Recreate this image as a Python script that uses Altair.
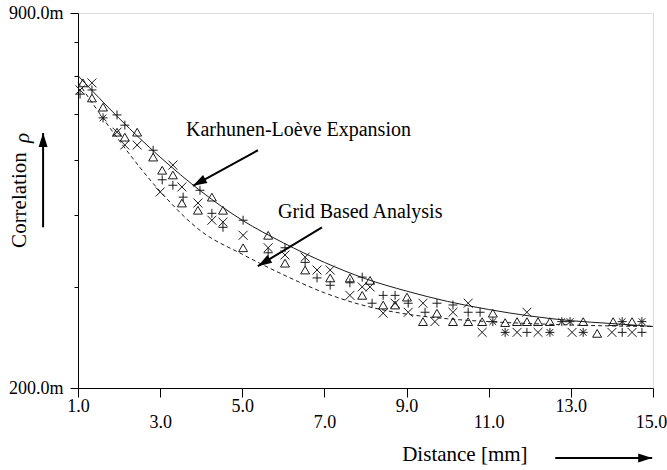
import altair as alt
import pandas as pd

FONT = "Liberation Serif"
INK = "#1a1a1a"

# ---- fitted curves ----
curve_x = [1, 2, 3, 4, 5, 6, 7, 8, 9, 10, 11, 12, 13, 14, 15]
kl_rho = [700, 590, 505, 440, 392, 358, 331, 310, 295, 283, 274, 267, 262, 259, 256]
grid_rho = [682, 540, 440, 375, 342, 315, 293, 278, 269, 264, 261, 259, 257.5, 256.5, 256]

# ---- measured points ----
tri_x = [1.12, 1.34, 1.61, 1.95, 2.14, 2.44, 2.83, 3.05, 3.31, 3.53, 3.92, 4.26, 4.53,
         5.02, 5.63, 6.04, 6.53, 7.14, 7.62, 7.92, 8.11, 8.43, 8.72, 9.01, 9.40, 9.74,
         10.13, 10.50, 10.84, 11.10, 11.40, 11.69, 11.93, 12.20, 12.49, 13.30, 13.64,
         14.03, 14.49]
tri_rho = [680, 640, 617, 558, 547, 558, 505, 479, 470, 420, 408, 430, 408,
           351, 369, 330, 321, 311, 311, 290, 308, 279, 279, 288, 261, 270,
           261, 261, 261, 270, 260, 261, 261, 261, 261, 261, 249,
           261, 261]

cross_x = [1.05, 1.34, 1.95, 2.14, 2.44, 3.00, 3.31, 3.53, 3.92, 4.26, 4.53, 5.02, 5.63,
           6.04, 6.53, 6.82, 7.14, 7.62, 7.92, 8.11, 8.43, 8.72, 9.04, 9.40, 9.69, 10.13,
           10.50, 10.84, 11.69, 11.93, 12.20, 13.03, 14.00, 14.49]
cross_rho = [661, 680, 558, 530, 530, 439, 489, 448, 420, 392, 389, 369, 351,
             341, 338, 321, 321, 290, 300, 300, 270, 281, 271, 281, 261, 271,
             281, 250, 250, 271, 250, 250, 250, 250]

plus_x = [1.05, 1.34, 1.95, 2.14, 2.83, 3.05, 3.31, 3.56, 3.97, 4.26, 4.53, 5.02, 5.63,
          6.04, 6.53, 6.82, 7.14, 7.62, 7.92, 8.16, 8.43, 8.72, 9.04, 9.45, 9.74, 10.13,
          10.50, 10.79, 11.93, 14.25, 14.73]
plus_rho = [650, 661, 598, 574, 519, 461, 451, 430, 442, 403, 381, 392, 344,
            351, 331, 311, 302, 305, 312, 281, 290, 290, 281, 271, 281, 279,
            271, 271, 250, 250, 250]

star_x = [1.61, 11.10, 11.40, 12.49, 12.78, 12.98, 13.30, 14.25, 14.73]
star_rho = [591, 261, 250, 250, 261, 261, 250, 261, 261]

# ---- axes ----
x_ticks = [1, 3, 5, 7, 9, 11, 13, 15]
y_ticks = [200, 300, 400, 500, 600, 700, 800, 900]

# ---- annotations (data coordinates) ----
note_text = ["Karhunen-Loève Expansion", "Grid Based Analysis"]
note_x = [3.63, 5.87]
note_rho = [563, 405]

arrow_x1 = [5.38, 6.94, 0.15, 12.62]
arrow_rho1 = [519, 381, 381, 151]
arrow_x2 = [3.80, 5.38, 0.15, 14.98]
arrow_rho2 = [450, 326, 556, 151]
arrow_angle = [241, 238.5, 0, 90]

title_text = ["Distance [mm]", "Correlation", "ρ"]
title_x = [10.42, -0.41, -0.33]
title_rho = [153, 425, 545]
title_angle = [0, 270, 270]
title_italic = [False, False, True]

# ---------------------------------------------------------------
xscale = alt.Scale(domain=[1, 15], nice=False, zero=False)
yscale = alt.Scale(type="log", domain=[200, 900], nice=False)

xaxis = alt.Axis(
    values=x_ticks, format=".1f", title=None, grid=False,
    labelFont=FONT, labelFontSize=18, labelColor="black",
    tickSize=9, tickColor="black", domainColor="black",
    labelOverlap=False, labelFlush=False,
    labelPadding={"condition": {"test": "(datum.value - 3) % 4 == 0", "value": 16}, "value": 0},
    labelOffset={"condition": {"test": "datum.value == 15", "value": -2}, "value": 0},
)
yaxis = alt.Axis(
    values=y_ticks, title=None, grid=False,
    labelExpr="datum.value == 900 ? '900.0m' : (datum.value == 200 ? '200.0m' : '')",
    labelFont=FONT, labelFontSize=18, labelColor="black", labelPadding=7,
    tickColor="black", domainColor="black", labelOverlap=False,
    tickSize={"condition": {"test": "datum.value == 200 || datum.value == 900", "value": 8}, "value": 4},
)

X = lambda f: alt.X(f, type="quantitative", scale=xscale, axis=xaxis)
Y = lambda f: alt.Y(f, type="quantitative", scale=yscale, axis=yaxis)

curves = pd.DataFrame({
    "x": curve_x * 2,
    "rho": kl_rho + grid_rho,
    "curve": ["KL"] * len(curve_x) + ["Grid"] * len(curve_x),
})

pts = pd.DataFrame({
    "x": tri_x + cross_x + plus_x + star_x,
    "rho": tri_rho + cross_rho + plus_rho + star_rho,
    "kind": ["tri"] * len(tri_x) + ["cross"] * len(cross_x) + ["plus"] * len(plus_x) + ["star"] * len(star_x),
})

notes = pd.DataFrame({"x": note_x, "rho": note_rho, "t": note_text})
arrows = pd.DataFrame({"x": arrow_x1, "rho": arrow_rho1, "x2": arrow_x2, "rho2": arrow_rho2, "a": arrow_angle})
titles = pd.DataFrame({"x": title_x, "rho": title_rho, "t": title_text, "a": title_angle, "it": title_italic})

kl_line = alt.Chart(curves).transform_filter("datum.curve == 'KL'").mark_line(
    color=INK, strokeWidth=1, interpolate="monotone"
).encode(x=X("x"), y=Y("rho"))

grid_line = alt.Chart(curves).transform_filter("datum.curve == 'Grid'").mark_line(
    color=INK, strokeWidth=1, strokeDash=[4, 3], interpolate="monotone"
).encode(x=X("x"), y=Y("rho"))

shape_paths = [
    "triangle-up",
    "M-1,-1L1,1M-1,1L1,-1",
    "M-1,0L1,0M0,-1L0,1",
    "M-1,0L1,0M0,-1L0,1M-0.75,-0.75L0.75,0.75M-0.75,0.75L0.75,-0.75",
]
points = alt.Chart(pts).mark_point(filled=False, color=INK, strokeWidth=1, opacity=1, size=80).encode(
    x=X("x"), y=Y("rho"),
    shape=alt.Shape("kind:N", scale=alt.Scale(domain=["tri", "cross", "plus", "star"], range=shape_paths), legend=None),
)

note_marks = alt.Chart(notes).mark_text(
    font=FONT, fontSize=20, align="left", baseline="middle", color="black"
).encode(x=X("x"), y=Y("rho"), text="t:N")

arrow_lines = alt.Chart(arrows).mark_rule(color="black", strokeWidth=2).encode(
    x=X("x"), y=Y("rho"), x2="x2:Q", y2="rho2:Q"
)
arrow_heads = alt.Chart(arrows).mark_point(
    shape="M0,0L-0.9,2.8L0.9,2.8Z", filled=True, color="black", size=100, opacity=1
).encode(x=X("x2"), y=Y("rho2"), angle=alt.Angle("a:Q", scale=None))

title_plain = alt.Chart(titles).transform_filter("!datum.it").mark_text(
    font=FONT, fontSize=21, align="center", baseline="middle", color="black"
).encode(x=X("x"), y=Y("rho"), text="t:N", angle=alt.Angle("a:Q", scale=None))

title_ital = alt.Chart(titles).transform_filter("datum.it").mark_text(
    font=FONT, fontSize=21, fontStyle="italic", align="center", baseline="middle", color="black"
).encode(x=X("x"), y=Y("rho"), text="t:N", angle=alt.Angle("a:Q", scale=None))

chart = alt.layer(
    grid_line, kl_line, points, note_marks, arrow_lines, arrow_heads, title_plain, title_ital
).properties(
    width=575, height=375,
    autosize=alt.AutoSizeParams(type="none"),
    padding={"left": 78, "top": 13, "right": 14, "bottom": 82},
    background="white",
).configure_view(stroke="#444", strokeWidth=1.2).configure_text(font=FONT).configure(font=FONT)

chart.save("out.html", embed_options={"renderer": "svg", "actions": False})
